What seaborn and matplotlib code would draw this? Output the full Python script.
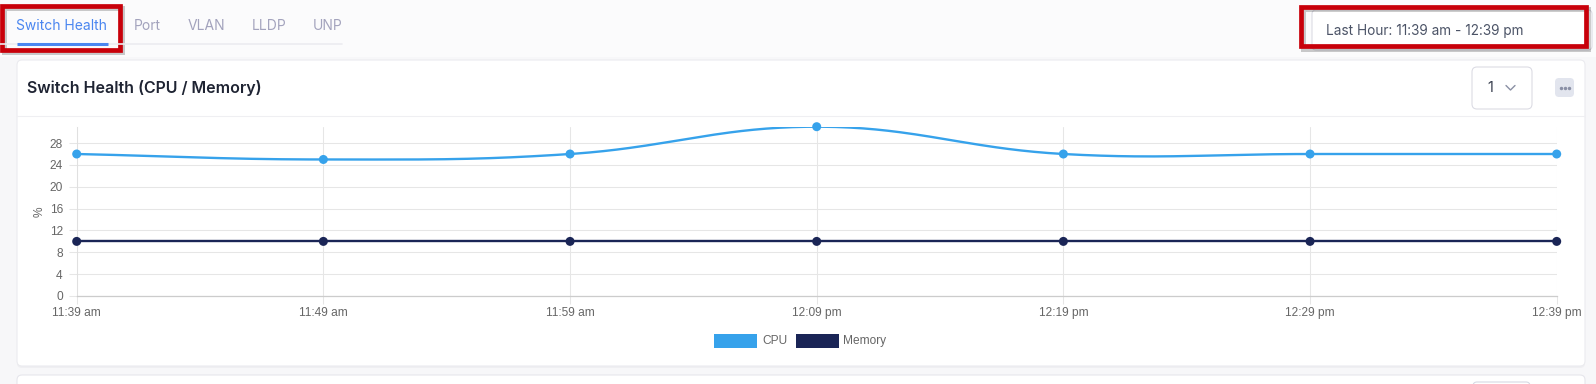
import numpy as np
import pandas as pd
import matplotlib
matplotlib.use("Agg")
import matplotlib.pyplot as plt
import seaborn as sns
from matplotlib.patches import Rectangle, FancyBboxPatch

# ---------------- data ----------------
times = ["11:39 am", "11:49 am", "11:59 am", "12:09 pm", "12:19 pm", "12:29 pm", "12:39 pm"]
cpu = [26, 25, 26, 31, 26, 26, 26]
memory = [10, 10, 10, 10, 10, 10, 10]
yticks = [0, 4, 8, 12, 16, 20, 24, 28]
tabs = ["Switch Health", "Port", "VLAN", "LLDP", "UNP"]
series_names = ["CPU", "Memory"]
title = "Switch Health (CPU / Memory)"
range_text = "Last Hour: 11:39 am - 12:39 pm"

CPU_C = "#36a2eb"
MEM_C = "#1a2556"
W, H = 1596, 384

sns.set_theme(style="white")
plt.rcParams["font.family"] = ["Liberation Sans", "DejaVu Sans"]

fig = plt.figure(figsize=(W / 100, H / 100), dpi=100)
fig.patch.set_facecolor("#f7f7f9")

def overlay(z):
    a = fig.add_axes([0, 0, 1, 1], zorder=z)
    a.set_xlim(0, W)
    a.set_ylim(H, 0)
    a.axis("off")
    a.patch.set_alpha(0)
    return a

bg = overlay(0)
# top strip lighter
bg.add_patch(Rectangle((0, 0), W, 56, color="#fbfbfc", zorder=0))
# main card (with faint shadow)
bg.add_patch(FancyBboxPatch((17, 61), 1568, 307, boxstyle="round,pad=0,rounding_size=5",
                            fc="#efeff2", ec="none"))
bg.add_patch(FancyBboxPatch((17, 60), 1568, 306, boxstyle="round,pad=0,rounding_size=5",
                            fc="white", ec="#ebebef", lw=0.8))
bg.plot([17, 1585], [116, 116], color="#efeff2", lw=0.8)
# next card peek
bg.add_patch(FancyBboxPatch((17, 375), 1568, 40, boxstyle="round,pad=0,rounding_size=5",
                            fc="white", ec="#e6e6ec", lw=0.8))
bg.add_patch(FancyBboxPatch((1473, 382), 57, 30, boxstyle="round,pad=0,rounding_size=4",
                            fc="white", ec="#d6d9e4", lw=0.8))

# ---------------- chart ----------------
L, R, T, B = 76.7, 1556.7, 126.7, 296.0
ax = fig.add_axes([L / W, 1 - B / H, (R - L) / W, (B - T) / H], zorder=1)
ax.patch.set_alpha(0)
xi = np.arange(len(times))
ymax = 31
ax.set_xlim(0, len(times) - 1)
ax.set_ylim(0, ymax)

# Chart.js style bezier smoothing (tension 0.4) computed in pixel space
sx = (R - L) / (len(times) - 1)
sy = (B - T) / ymax

def smooth(xv, yv, t=0.4, n=60):
    P = np.column_stack([np.asarray(xv, float) * sx, np.asarray(yv, float) * sy])
    m = len(P)
    cps = []
    for i in range(m):
        prev = P[i - 1] if i > 0 else P[i]
        nxt = P[i + 1] if i < m - 1 else P[i]
        d01 = np.hypot(*(P[i] - prev))
        d12 = np.hypot(*(nxt - P[i]))
        tot = d01 + d12
        s01 = d01 / tot if tot else 0
        s12 = d12 / tot if tot else 0
        cps.append((P[i] - t * s01 * (nxt - prev), P[i] + t * s12 * (nxt - prev)))
    out = []
    u = np.linspace(0, 1, n)[:, None]
    for i in range(m - 1):
        p0, p3 = P[i], P[i + 1]
        p1, p2 = cps[i][1], cps[i + 1][0]
        seg = (1 - u) ** 3 * p0 + 3 * (1 - u) ** 2 * u * p1 + 3 * (1 - u) * u ** 2 * p2 + u ** 3 * p3
        out.append(seg if i == 0 else seg[1:])
    out = np.vstack(out)
    return out[:, 0] / sx, out[:, 1] / sy

cx, cy = smooth(xi, cpu)
mx, my = smooth(xi, memory)
curve = pd.concat([
    pd.DataFrame({"x": cx, "y": cy, "s": series_names[0], "o": np.arange(len(cx))}),
    pd.DataFrame({"x": mx, "y": my, "s": series_names[1], "o": np.arange(len(mx))}),
])
sns.lineplot(data=curve, x="x", y="y", hue="s", units="s", estimator=None, sort=False,
             palette=[CPU_C, MEM_C], lw=1.7, legend=False, ax=ax, zorder=3)
pts = pd.DataFrame({"x": np.concatenate([xi, xi]), "y": cpu + memory,
                    "s": [series_names[0]] * len(xi) + [series_names[1]] * len(xi)})
sns.scatterplot(data=pts, x="x", y="y", hue="s", palette=[CPU_C, MEM_C], s=42,
                edgecolor="none", legend=False, ax=ax, zorder=4, clip_on=False)

ax.set_xticks(xi)
ax.set_xticklabels(times)
ax.set_yticks(yticks)
ax.set_xlabel("")
ax.set_ylabel("%", fontsize=8.6, color="#666666", labelpad=3)
ax.grid(True, color="#e6e6e6", lw=0.75)
for s in ["top", "right"]:
    ax.spines[s].set_visible(False)
ax.spines["left"].set_color("#e0e0e0")
ax.spines["left"].set_linewidth(0.75)
ax.spines["bottom"].set_color("#cccccc")
ax.spines["bottom"].set_linewidth(0.9)
ax.tick_params(axis="both", length=6, width=0.75, color="#e6e6e6", labelsize=8.6,
               labelcolor="#666666")
ax.tick_params(axis="x", pad=2)
ax.tick_params(axis="y", pad=4)
ax.tick_params(bottom=True, left=True)

# ---------------- UI overlay ----------------
ov = overlay(2)
ui = ["Inter", "DejaVu Sans"]
tab_x = [16.5, 134, 188, 252, 313]
for i, (t, x) in enumerate(zip(tabs, tab_x)):
    ov.text(x, 25.5, t, fontsize=10, family=ui, va="center", ha="left",
            color="#4a86f0" if i == 0 else "#a3a3bd")
ov.plot([0, 342], [44, 44], color="#ececf0", lw=1.2)
ov.plot([16.7, 107.7], [43.5, 43.5], color="#4a86f0", lw=2.2, solid_capstyle="butt")

# date range box
ov.add_patch(FancyBboxPatch((1312, 10), 280, 40, boxstyle="round,pad=0,rounding_size=4",
                            fc="white", ec="#dcdce4", lw=0.8))
ov.text(1326, 31, range_text, fontsize=9.8, family=ui, va="center", ha="left", color="#4b5366")

# card header
ov.text(27, 87.5, title, fontsize=11.5, family=ui, weight="semibold", va="center",
        ha="left", color="#1f2433")
ov.add_patch(FancyBboxPatch((1472, 67), 60, 42, boxstyle="round,pad=0,rounding_size=5",
                            fc="white", ec="#dcdce4", lw=0.8))
ov.text(1487, 88, "1", fontsize=10.5, family=ui, va="center", ha="left", color="#3a4050")
ov.plot([1506, 1510.5, 1515], [85.5, 90, 85.5], color="#8a90a4", lw=1.0)
ov.add_patch(FancyBboxPatch((1555, 78), 19, 19, boxstyle="round,pad=0,rounding_size=4",
                            fc="#e2e5ee", ec="none"))
ov.scatter([1560.5, 1564.5, 1568.5], [87.5, 87.5, 87.5], s=2.2, color="#8a90a6", zorder=5)

# legend
for (lab, col, sx0, tx) in [(series_names[0], CPU_C, 714, 762), (series_names[1], MEM_C, 796, 843)]:
    ov.add_patch(Rectangle((sx0, 334), 43, 14, fc=col, ec="none"))
    ov.text(tx, 341, lab, fontsize=8.6, va="center", ha="left", color="#666666")

# red highlight boxes with shadow
def redbox(x0, y0, x1, y1):
    ov.add_patch(Rectangle((x0 + 2, y0 + 2.5), x1 - x0, y1 - y0, fill=False,
                           ec="#00000033", lw=3.6))
    ov.add_patch(Rectangle((x0, y0), x1 - x0, y1 - y0, fill=False, ec="#c8000a",
                           lw=3.4, joinstyle="miter"))

redbox(2.2, 5.5, 119.5, 49.5)
redbox(1300.5, 6.5, 1585.5, 46)

fig.savefig("out.png", dpi=100, facecolor=fig.get_facecolor())
